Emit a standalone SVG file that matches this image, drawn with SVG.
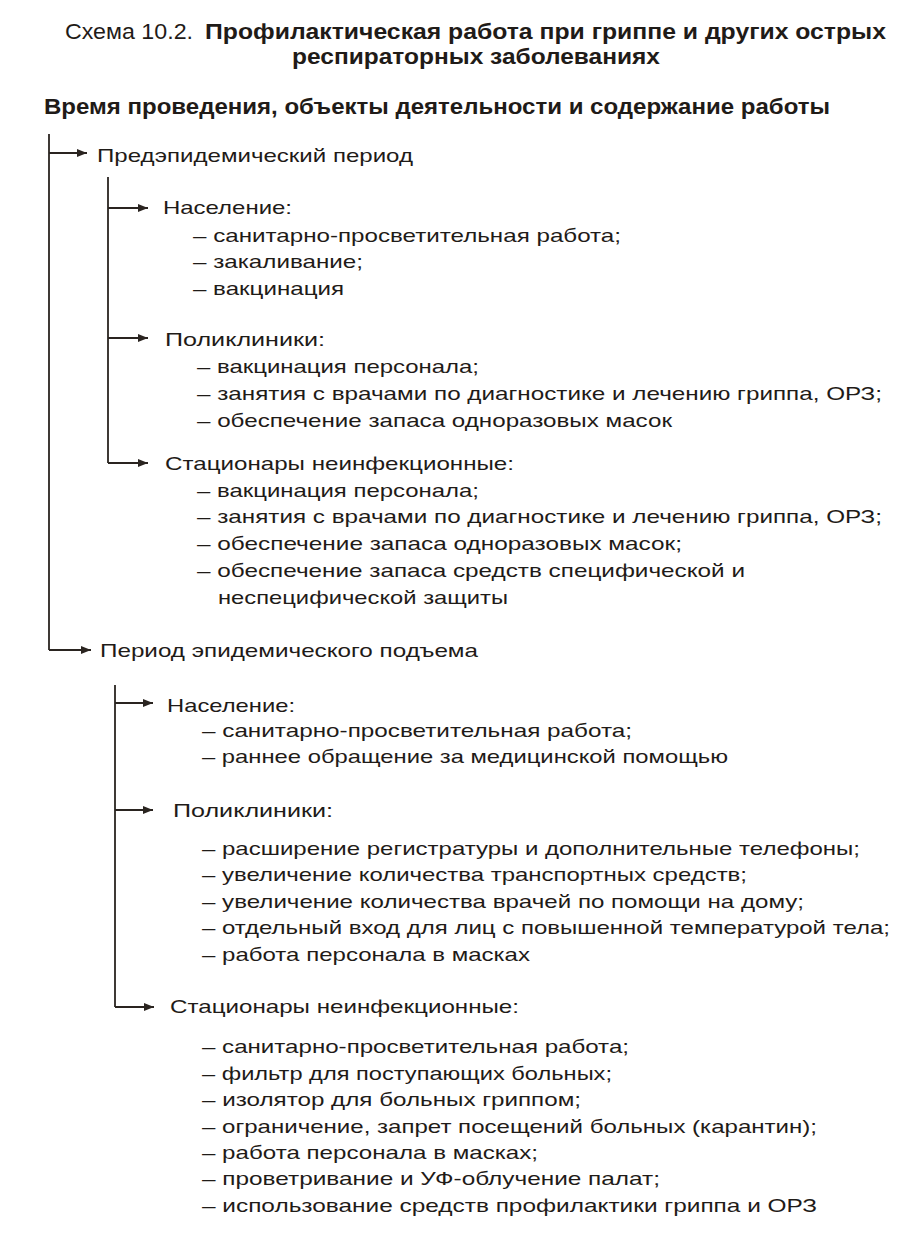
<svg xmlns="http://www.w3.org/2000/svg" width="912" height="1257" viewBox="0 0 912 1257">
<defs>
<marker id="ah" markerUnits="userSpaceOnUse" markerWidth="11" markerHeight="9" refX="10" refY="4" orient="auto">
<path d="M0,0 L10,4 L0,8 z" fill="#2a2420"/>
</marker>
<style>
text{font-family:"Liberation Sans",Arial,sans-serif;fill:#1f1b18;}
.t{font-size:22px;}
.b{font-weight:bold;}
.h{font-size:22px;font-weight:bold;}
.n{font-size:19px;}
.c line{stroke:#2a2420;stroke-width:1.8;fill:none;}
.c line.a{marker-end:url(#ah);}
</style>
</defs>
<rect width="912" height="1257" fill="#ffffff"/>
<g id="title">
<text class="t" x="65" y="39" textLength="128" lengthAdjust="spacingAndGlyphs">Схема 10.2.</text>
<text class="t b" x="205" y="39" textLength="681" lengthAdjust="spacingAndGlyphs">Профилактическая работа при гриппе и других острых</text>
<text class="t b" x="292" y="64" textLength="368" lengthAdjust="spacingAndGlyphs">респираторных заболеваниях</text>
<text class="h" x="44" y="114" textLength="786" lengthAdjust="spacingAndGlyphs">Время проведения, объекты деятельности и содержание работы</text>
</g>
<g id="connectors" class="c">
<line x1="49" y1="134" x2="49" y2="650"/>
<line class="a" x1="49" y1="153" x2="87" y2="153"/>
<line class="a" x1="49" y1="650" x2="91" y2="650"/>
<line x1="108" y1="177" x2="108" y2="463"/>
<line class="a" x1="108" y1="208" x2="148" y2="208"/>
<line class="a" x1="108" y1="338" x2="148" y2="338"/>
<line class="a" x1="108" y1="463" x2="148" y2="463"/>
<line x1="115" y1="685" x2="115" y2="1007"/>
<line class="a" x1="115" y1="703" x2="153" y2="703"/>
<line class="a" x1="115" y1="810" x2="153" y2="810"/>
<line class="a" x1="115" y1="1007" x2="154" y2="1007"/>
</g>
<g id="pre-period">
<text class="n" x="97" y="162" textLength="316" lengthAdjust="spacingAndGlyphs">Предэпидемический период</text>
</g>
<g id="pre-population">
<text class="n" x="163" y="214" textLength="129" lengthAdjust="spacingAndGlyphs">Население:</text>
<text class="n" x="193" y="242" textLength="428" lengthAdjust="spacingAndGlyphs">– санитарно-просветительная работа;</text>
<text class="n" x="193" y="268" textLength="170" lengthAdjust="spacingAndGlyphs">– закаливание;</text>
<text class="n" x="193" y="295" textLength="151" lengthAdjust="spacingAndGlyphs">– вакцинация</text>
</g>
<g id="pre-clinics">
<text class="n" x="165" y="346" textLength="160" lengthAdjust="spacingAndGlyphs">Поликлиники:</text>
<text class="n" x="197" y="373" textLength="282" lengthAdjust="spacingAndGlyphs">– вакцинация персонала;</text>
<text class="n" x="197" y="400" textLength="685" lengthAdjust="spacingAndGlyphs">– занятия с врачами по диагностике и лечению гриппа, ОРЗ;</text>
<text class="n" x="197" y="427" textLength="475" lengthAdjust="spacingAndGlyphs">– обеспечение запаса одноразовых масок</text>
</g>
<g id="pre-hospitals">
<text class="n" x="165" y="470" textLength="349" lengthAdjust="spacingAndGlyphs">Стационары неинфекционные:</text>
<text class="n" x="197" y="497" textLength="282" lengthAdjust="spacingAndGlyphs">– вакцинация персонала;</text>
<text class="n" x="197" y="523" textLength="685" lengthAdjust="spacingAndGlyphs">– занятия с врачами по диагностике и лечению гриппа, ОРЗ;</text>
<text class="n" x="197" y="550" textLength="485" lengthAdjust="spacingAndGlyphs">– обеспечение запаса одноразовых масок;</text>
<text class="n" x="197" y="577" textLength="548" lengthAdjust="spacingAndGlyphs">– обеспечение запаса средств специфической и</text>
<text class="n" x="218" y="604" textLength="290" lengthAdjust="spacingAndGlyphs">неспецифической защиты</text>
</g>
<g id="epi-period">
<text class="n" x="100" y="657" textLength="378" lengthAdjust="spacingAndGlyphs">Период эпидемического подъема</text>
</g>
<g id="epi-population">
<text class="n" x="167" y="712" textLength="128" lengthAdjust="spacingAndGlyphs">Население:</text>
<text class="n" x="202" y="737" textLength="430" lengthAdjust="spacingAndGlyphs">– санитарно-просветительная работа;</text>
<text class="n" x="202" y="763" textLength="526" lengthAdjust="spacingAndGlyphs">– раннее обращение за медицинской помощью</text>
</g>
<g id="epi-clinics">
<text class="n" x="173" y="817" textLength="160" lengthAdjust="spacingAndGlyphs">Поликлиники:</text>
<text class="n" x="202" y="855" textLength="658" lengthAdjust="spacingAndGlyphs">– расширение регистратуры и дополнительные телефоны;</text>
<text class="n" x="202" y="881" textLength="545" lengthAdjust="spacingAndGlyphs">– увеличение количества транспортных средств;</text>
<text class="n" x="202" y="908" textLength="602" lengthAdjust="spacingAndGlyphs">– увеличение количества врачей по помощи на дому;</text>
<text class="n" x="202" y="934" textLength="688" lengthAdjust="spacingAndGlyphs">– отдельный вход для лиц с повышенной температурой тела;</text>
<text class="n" x="202" y="961" textLength="328" lengthAdjust="spacingAndGlyphs">– работа персонала в масках</text>
</g>
<g id="epi-hospitals">
<text class="n" x="170" y="1013" textLength="349" lengthAdjust="spacingAndGlyphs">Стационары неинфекционные:</text>
<text class="n" x="202" y="1053" textLength="427" lengthAdjust="spacingAndGlyphs">– санитарно-просветительная работа;</text>
<text class="n" x="202" y="1080" textLength="410" lengthAdjust="spacingAndGlyphs">– фильтр для поступающих больных;</text>
<text class="n" x="202" y="1106" textLength="379" lengthAdjust="spacingAndGlyphs">– изолятор для больных гриппом;</text>
<text class="n" x="202" y="1133" textLength="615" lengthAdjust="spacingAndGlyphs">– ограничение, запрет посещений больных (карантин);</text>
<text class="n" x="202" y="1159" textLength="336" lengthAdjust="spacingAndGlyphs">– работа персонала в масках;</text>
<text class="n" x="202" y="1185" textLength="458" lengthAdjust="spacingAndGlyphs">– проветривание и УФ-облучение палат;</text>
<text class="n" x="202" y="1212" textLength="615" lengthAdjust="spacingAndGlyphs">– использование средств профилактики гриппа и ОРЗ</text>
</g>
</svg>
